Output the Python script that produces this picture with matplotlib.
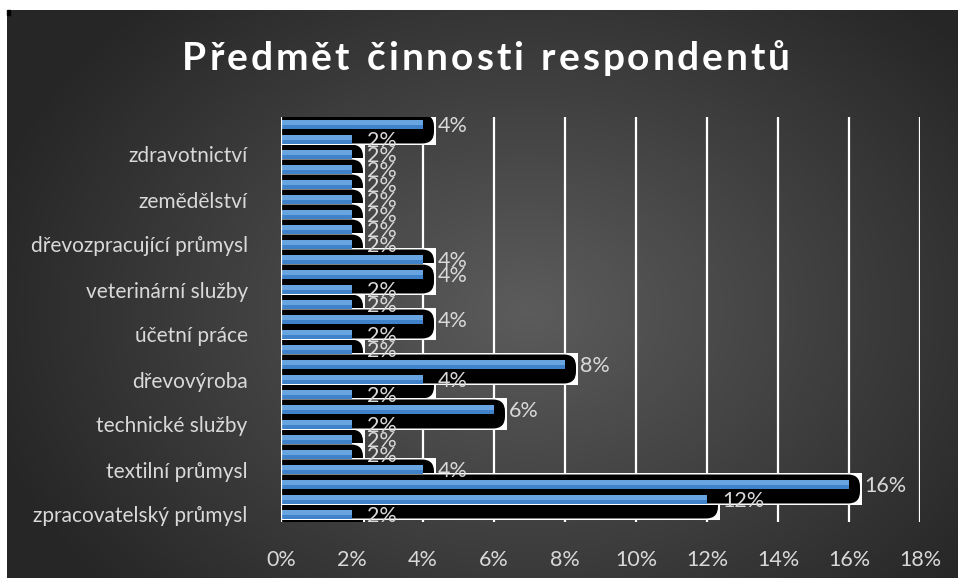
import numpy as np
import matplotlib.pyplot as plt
from matplotlib.patches import Rectangle, FancyBboxPatch

plt.rcParams['font.family'] = ['Lato', 'DejaVu Sans']

# category order is bottom -> top (index 0 = bottom bar)
values = [2, 12, 16, 4, 2, 2, 2, 6, 2, 4, 8, 2, 2, 4, 2, 2, 4, 4, 2, 2, 2, 2, 2, 2, 2, 2, 4]
tick_pos = [0, 3, 6, 9, 12, 15, 18, 21, 24]
tick_names = ["zpracovatelský průmysl", "textilní průmysl", "technické služby",
              "dřevovýroba", "účetní práce", "veterinární služby",
              "dřevozpracující průmysl", "zemědělství", "zdravotnictví"]
x_ticks = [0, 2, 4, 6, 8, 10, 12, 14, 16, 18]
title = "Předmět činnosti respondentů"

W, H = 958, 578
fig = plt.figure(figsize=(W / 100, H / 100), dpi=100, facecolor='white')

# dark radial gradient background of the chart area
bg = fig.add_axes([7 / W, 0, (W - 7) / W, (H - 10) / H])
yy, xx = np.mgrid[0:568, 0:951]
r = np.sqrt(((xx - 520) / 560.0) ** 2 + ((yy - 300) / 420.0) ** 2)
shade = np.clip(0.36 - 0.21 * r, 0.15, 0.36)
bg.imshow(np.dstack([shade] * 3), aspect='auto', extent=[0, 1, 0, 1])
bg.set_axis_off()
fig.patches.append(Rectangle((7 / W, 1 - 15 / H), 3 / W, 5 / H, transform=fig.transFigure,
                             color='black'))

left, right, top, bottom = 281, 920, 117, 522
ax = fig.add_axes([left / W, 1 - bottom / H, (right - left) / W, (bottom - top) / H])
ax.set_facecolor('none')
ax.set_xlim(0, 18)
ax.set_ylim(-0.5, len(values) - 0.5)

px_x = 18 / (right - left)          # data units per pixel, x
px_y = len(values) / (bottom - top)  # data units per pixel, y

for x in x_ticks[1:]:
    ax.axvline(x, color='white', lw=1.6, zorder=0.5)
ax.axvline(0, color='white', lw=1.6, zorder=50)

# black "shadow" blobs with white edges, bigger values on top
order = sorted(range(len(values)), key=lambda i: (values[i], -i))
for k, i in enumerate(order):
    v = values[i]
    z = 1 + k * 0.01
    y0, y1 = i - 19 * px_y, i + 10 * px_y
    ax.add_patch(Rectangle((-1, y0 - 1.5 * px_y), v + 1 + 13 * px_x, (y1 - y0) + 3 * px_y,
                           facecolor='white', edgecolor='none', zorder=z))
    ax.add_patch(FancyBboxPatch((-1, y0), v + 1 + 11 * px_x, y1 - y0,
                                boxstyle="round,pad=0,rounding_size=%f" % (12 * px_x),
                                mutation_aspect=px_y / px_x,
                                facecolor='black', edgecolor='none', zorder=z + 0.005))

pos = np.arange(len(values))
ax.barh(pos, values, height=0.6, color='#3f82c9', zorder=10)
ax.barh(pos + 0.13, values, height=0.32, color='#68a4e0', zorder=10.1)

for i, v in enumerate(values):
    ax.text(v + 15 * px_x, i - 0.1, "%d%%" % v, color='#d9d9d9', fontsize=15.5,
            va='center', ha='left', zorder=60)

ax.set_yticks(tick_pos)
ax.set_yticklabels(tick_names)
ax.set_xticks(x_ticks)
ax.set_xticklabels(["%d%%" % t for t in x_ticks])
ax.tick_params(axis='y', length=0, pad=24, labelsize=15, labelcolor='#d9d9d9')
ax.tick_params(axis='x', length=0, pad=20, labelsize=15.5, labelcolor='#d9d9d9')
for s in ax.spines.values():
    s.set_visible(False)

# letter-spaced title, laid out char by char between x=182 and x=790
renderer = fig.canvas.get_renderer()
tkw = dict(color='white', fontsize=28, fontweight='bold', va='center', ha='left')
widths = []
for ch in title:
    t = fig.text(0, 0, ch if ch != ' ' else 'n', **tkw)
    w = t.get_window_extent(renderer).width
    widths.append(w * 0.55 if ch == ' ' else w)
    t.remove()
gap = (790 - 182 - sum(widths)) / (len(title) - 1)
xpos = 182
for ch, w in zip(title, widths):
    if ch != ' ':
        fig.text(xpos / W, 1 - 58 / H, ch, **tkw)
    xpos += w + gap

fig.savefig('out.png', dpi=100, facecolor='white')
